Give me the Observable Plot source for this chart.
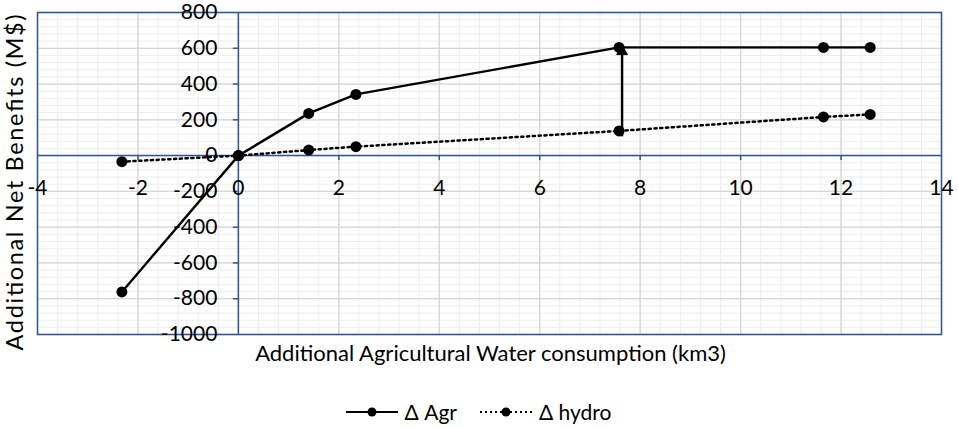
<!DOCTYPE html>
<html>
<head>
<meta charset="utf-8">
<script src="https://cdn.jsdelivr.net/npm/d3@7"></script>
<script src="https://cdn.jsdelivr.net/npm/@observablehq/plot@0.6"></script>
<style>
  body { margin: 0; background: #fff; font-family: Lato, sans-serif; }
  #legend { height: 49px; display: flex; justify-content: center; align-items: center; gap: 22px; font-size: 21px; color: #000; box-sizing: border-box; padding-top: 14px; padding-right: 2px; }
  .item { display: flex; align-items: center; gap: 6px; }
</style>
</head>
<body>
<div id="chart"></div>
<div id="legend"></div>
<script>
const xAgr = [-2.32, 0, 1.4, 2.34, 7.58, 11.65, 12.58];
const yAgr = [-762, 0, 236, 342, 605, 605, 605];
const xHydro = [-2.32, 0, 1.4, 2.34, 7.58, 11.65, 12.58];
const yHydro = [-34, 0, 31, 50, 138, 216, 230];
const arrowLink = [{x: 7.64, from: 105, to: 582}];
const xTicks = [-4, -2, 0, 2, 4, 6, 8, 10, 12, 14];
const yTicks = [-1000, -800, -600, -400, -200, 0, 200, 400, 600, 800];
const seriesNames = ["Δ Agr", "Δ hydro"];
const xTitle = "Additional Agricultural Water consumption (km3)";
const yTitle = "Additional Net Benefits (M$)";

const agr = xAgr.map((x, i) => ({x, y: yAgr[i]}));
const hydro = xHydro.map((x, i) => ({x, y: yHydro[i]}));
const xMinor = d3.range(-4, 14.001, 0.4);
const yMinor = d3.range(-1000, 800.001, 40);
const blue = "#2f5597";

const chart = Plot.plot({
  width: 958,
  height: 380,
  marginLeft: 37,
  marginRight: 17,
  marginTop: 12,
  marginBottom: 46,
  style: {fontFamily: "Lato, sans-serif", color: "#000", background: "#fff", overflow: "visible"},
  x: {domain: [-4, 14], axis: null},
  y: {domain: [-1000, 800], axis: null},
  marks: [
    Plot.ruleX(xMinor, {stroke: "#ededed", strokeWidth: 1}),
    Plot.ruleY(yMinor, {stroke: "#ededed", strokeWidth: 1}),
    Plot.ruleX(xTicks, {stroke: "#d6d6d6", strokeWidth: 1.3}),
    Plot.ruleY(yTicks, {stroke: "#d6d6d6", strokeWidth: 1.3}),
    Plot.frame({stroke: blue, strokeWidth: 1.5}),
    Plot.ruleY([0], {stroke: blue, strokeWidth: 1.5}),
    Plot.ruleX([0], {stroke: blue, strokeWidth: 1.5}),
    Plot.ruleX(xTicks.filter(d => d > -4 && d < 14), {x: d => d, y1: 0, y2: -28, stroke: blue, strokeWidth: 1.5}),
    Plot.ruleY(yTicks.filter(d => d > -1000 && d < 800), {y: d => d, x1: -0.1, x2: 0, stroke: blue, strokeWidth: 1.5}),
    Plot.text(xTicks, {x: d => d, y: 0, dy: 33, text: d => String(d), fill: "#000", fontSize: 21}),
    Plot.text(yTicks, {x: 0, y: d => d, dx: -21, textAnchor: "end", text: d => String(d), fill: "#000", fontSize: 21}),
    Plot.line(hydro, {x: "x", y: "y", stroke: "#000", strokeWidth: 2.5, strokeDasharray: "2.2,3.6"}),
    Plot.line(agr, {x: "x", y: "y", stroke: "#000", strokeWidth: 2.4}),
    Plot.ruleX(arrowLink, {x: "x", y1: "from", y2: "to", stroke: "#000", strokeWidth: 2.4}),
    Plot.dot(arrowLink, {x: "x", y: "to", symbol: "triangle", r: 4, fill: "#000", stroke: "#000", strokeWidth: 1}),
    Plot.dot(hydro, {x: "x", y: "y", r: 5.5, fill: "#000"}),
    Plot.dot(agr, {x: "x", y: "y", r: 5.5, fill: "#000"}),
    Plot.text([xTitle], {x: () => 5.02, y: () => -1000, dy: 19, text: d => d, fill: "#000", fontSize: 22}),
    Plot.text([yTitle], {x: () => -4, y: () => -150, dx: -22, rotate: -90, textAnchor: "middle", text: d => d, fill: "#000", fontSize: 23.5})
  ]
});
document.getElementById("chart").appendChild(chart);
d3.select(chart).selectAll("text").filter(function() { return this.textContent === yTitle; })
  .attr("textLength", 336).attr("lengthAdjust", "spacing");

const legend = document.getElementById("legend");
seriesNames.forEach((name, i) => {
  const item = document.createElement("div");
  item.className = "item";
  const dash = i === 0 ? "" : 'stroke-dasharray="2,3"';
  item.innerHTML = `<svg width="54" height="14"><line x1="1" y1="7" x2="53" y2="7" stroke="#000" stroke-width="2.2" ${dash}/><circle cx="27" cy="7" r="4.5" fill="#000"/></svg><span>${name}</span>`;
  legend.appendChild(item);
});
</script>
</body>
</html>
